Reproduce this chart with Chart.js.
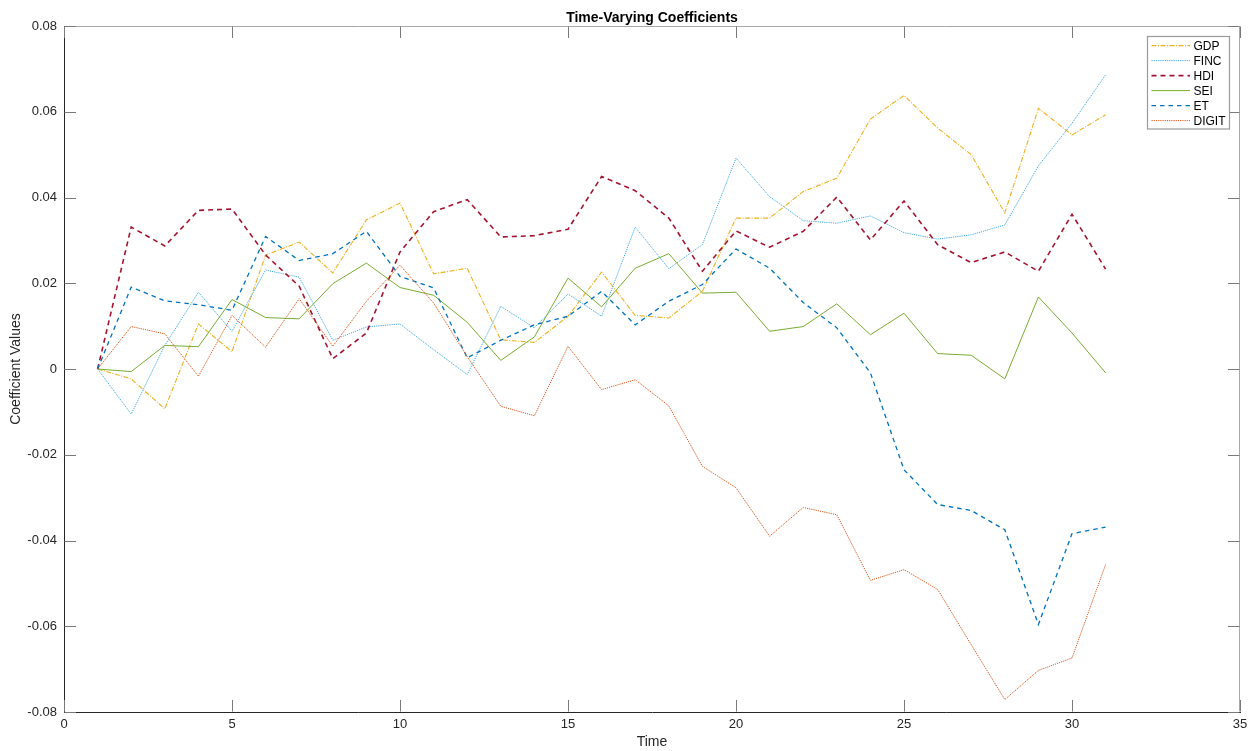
<!DOCTYPE html>
<html>
<head>
<meta charset="utf-8">
<title>Time-Varying Coefficients</title>
<script src="https://cdn.jsdelivr.net/npm/chart.js@4.4.1/dist/chart.umd.min.js"></script>
<style>
  html, body { margin: 0; padding: 0; background: #ffffff; }
  #wrap { width: 1258px; height: 751px; }
</style>
</head>
<body>
<div id="wrap"><canvas id="chart" width="1258" height="751"></canvas></div>
<script>
// Time index of the estimation window
const time = [1, 2, 3, 4, 5, 6, 7, 8, 9, 10, 11, 12, 13, 14, 15, 16, 17, 18, 19, 20,
              21, 22, 23, 24, 25, 26, 27, 28, 29, 30, 31];

// Coefficient paths for each regressor
const GDP   = [0, -0.0023, -0.0093, 0.0105, 0.0040, 0.0266, 0.0296, 0.0224, 0.0348, 0.0387,
               0.0222, 0.0235, 0.0068, 0.0062, 0.0123, 0.0226, 0.0125, 0.0119, 0.0181, 0.0352,
               0.0352, 0.0414, 0.0445, 0.0583, 0.0638, 0.0562, 0.0500, 0.0364, 0.0608, 0.0546, 0.0593];
const FINC  = [0, -0.0105, 0.0055, 0.0179, 0.0088, 0.0231, 0.0214, 0.0067, 0.0098, 0.0105,
               0.0045, -0.0013, 0.0146, 0.0096, 0.0175, 0.0123, 0.0331, 0.0234, 0.0290, 0.0492,
               0.0402, 0.0346, 0.0340, 0.0357, 0.0318, 0.0303, 0.0313, 0.0336, 0.0474, 0.0573, 0.0686];
const HDI   = [0, 0.0331, 0.0287, 0.0370, 0.0373, 0.0266, 0.0193, 0.0024, 0.0084, 0.0273,
               0.0367, 0.0395, 0.0308, 0.0311, 0.0326, 0.0449, 0.0416, 0.0352, 0.0228, 0.0322,
               0.0284, 0.0321, 0.0401, 0.0301, 0.0392, 0.0290, 0.0248, 0.0273, 0.0228, 0.0361, 0.0233];
const SEI   = [0, -0.0006, 0.0055, 0.0052, 0.0162, 0.0120, 0.0117, 0.0199, 0.0247, 0.0190,
               0.0172, 0.0109, 0.0020, 0.0075, 0.0212, 0.0145, 0.0235, 0.0269, 0.0177, 0.0179,
               0.0088, 0.0099, 0.0152, 0.0080, 0.0130, 0.0036, 0.0032, -0.0023, 0.0168, 0.0084, -0.0009];
const ET    = [0, 0.0191, 0.0159, 0.0150, 0.0137, 0.0309, 0.0253, 0.0269, 0.0321, 0.0216,
               0.0189, 0.0026, 0.0067, 0.0103, 0.0123, 0.0181, 0.0103, 0.0158, 0.0197, 0.0280,
               0.0235, 0.0155, 0.0096, -0.0009, -0.0235, -0.0316, -0.0330, -0.0375, -0.0596, -0.0384, -0.0369];
const DIGIT = [0, 0.0099, 0.0082, -0.0017, 0.0125, 0.0051, 0.0164, 0.0053, 0.0158, 0.0242,
               0.0154, 0.0029, -0.0087, -0.0109, 0.0053, -0.0048, -0.0025, -0.0086, -0.0227, -0.0277,
               -0.0390, -0.0323, -0.0340, -0.0493, -0.0468, -0.0514, -0.0643, -0.0771, -0.0703, -0.0674, -0.0456];

// Axis ticks and their labels
const xTicks = [0, 5, 10, 15, 20, 25, 30, 35];
const xTickLabels = ['0', '5', '10', '15', '20', '25', '30', '35'];
const yTicks = [-0.08, -0.06, -0.04, -0.02, 0, 0.02, 0.04, 0.06, 0.08];
const yTickLabels = ['-0.08', '-0.06', '-0.04', '-0.02', '0', '0.02', '0.04', '0.06', '0.08'];

const seriesNames = ['GDP', 'FINC', 'HDI', 'SEI', 'ET', 'DIGIT'];
const seriesValues = [GDP, FINC, HDI, SEI, ET, DIGIT];

const FONT = '"Liberation Sans", Arial, Helvetica, sans-serif';

const styles = {
  GDP:   { color: '#EDB120', width: 1.1, dash: [5, 1.5, 1, 1.5] },
  FINC:  { color: '#3FA9E6', width: 1,   dash: [1.2, 1] },
  HDI:   { color: '#A2142F', width: 1.6, dash: [5, 4] },
  SEI:   { color: '#77AC30', width: 1,   dash: [] },
  ET:    { color: '#0072BD', width: 1.3, dash: [4.5, 4] },
  DIGIT: { color: '#D95319', width: 1,   dash: [1.2, 1] }
};

const datasets = seriesNames.map((name, i) => ({
  label: name,
  data: time.map((t, k) => ({ x: t, y: seriesValues[i][k] })),
  borderColor: styles[name].color,
  backgroundColor: styles[name].color,
  borderWidth: styles[name].width,
  borderDash: styles[name].dash,
  pointRadius: 0,
  tension: 0,
  fill: false,
  order: seriesNames.length - i
}));

// Plot title above the axes box
const titlePlugin = {
  id: 'plotTitle',
  afterDraw(chart) {
    const { ctx, chartArea: a } = chart;
    ctx.save();
    ctx.font = 'bold 14px ' + FONT;
    ctx.fillStyle = '#000000';
    ctx.textAlign = 'center';
    ctx.textBaseline = 'alphabetic';
    ctx.fillText('Time-Varying Coefficients', (a.left + a.right) / 2, 21.7);
    ctx.restore();
  }
};

// Box outline (top/right) and inward tick marks on all four sides
const TICK_LEN = 11.5;
const framePlugin = {
  id: 'frame',
  afterDatasetsDraw(chart) {
    const { ctx, chartArea: a, scales: { x, y } } = chart;
    const L = Math.round(a.left) + 0.5, R = Math.round(a.right) - 0.5;
    const T = Math.round(a.top) + 0.5, B = Math.round(a.bottom) - 0.5;
    ctx.save();
    ctx.lineWidth = 1;
    ctx.strokeStyle = '#a8a8a8';
    ctx.beginPath();
    ctx.moveTo(L, T); ctx.lineTo(R, T);
    ctx.moveTo(R, T); ctx.lineTo(R, B);
    ctx.stroke();
    ctx.strokeStyle = '#7a7a7a';
    ctx.beginPath();
    x.ticks.forEach(t => {
      const px = Math.round(x.getPixelForValue(t.value)) + 0.5;
      ctx.moveTo(px, B); ctx.lineTo(px, B - TICK_LEN);
      ctx.moveTo(px, T); ctx.lineTo(px, T + TICK_LEN);
    });
    y.ticks.forEach(t => {
      const py = Math.round(y.getPixelForValue(t.value)) + 0.5;
      ctx.moveTo(L, py); ctx.lineTo(L + TICK_LEN, py);
      ctx.moveTo(R, py); ctx.lineTo(R - TICK_LEN, py);
    });
    ctx.stroke();
    ctx.restore();
  }
};

// Boxed legend in the upper-right corner of the axes
const legendPlugin = {
  id: 'boxLegend',
  afterDraw(chart) {
    const { ctx } = chart;
    const bx = 1147.5, by = 36.5, bw = 82, bh = 92.5;
    const rowH = 15, firstRow = 45.6;
    ctx.save();
    ctx.fillStyle = '#ffffff';
    ctx.fillRect(bx, by, bw, bh);
    ctx.lineWidth = 1.2;
    ctx.strokeStyle = '#9a9a9a';
    ctx.strokeRect(bx, by, bw, bh);
    chart.data.datasets.forEach((ds, i) => {
      const cy = firstRow + i * rowH;
      ctx.beginPath();
      ctx.setLineDash(ds.borderDash || []);
      ctx.lineWidth = ds.borderWidth;
      ctx.strokeStyle = ds.borderColor;
      ctx.moveTo(1151.5, cy); ctx.lineTo(1190, cy);
      ctx.stroke();
      ctx.setLineDash([]);
      ctx.font = '12px ' + FONT;
      ctx.fillStyle = '#000000';
      ctx.textAlign = 'left';
      ctx.textBaseline = 'alphabetic';
      ctx.fillText(ds.label, 1193.5, cy + 4.3);
    });
    ctx.restore();
  }
};

const ctx = document.getElementById('chart').getContext('2d');
new Chart(ctx, {
  type: 'line',
  data: { datasets },
  options: {
    responsive: false,
    animation: false,
    devicePixelRatio: 1,
    layout: { padding: { top: 26, right: 18, left: 0, bottom: 0 } },
    plugins: {
      legend: { display: false },
      tooltip: { enabled: false },
      title: { display: false }
    },
    scales: {
      x: {
        type: 'linear',
        min: 0,
        max: 35,
        afterBuildTicks(scale) { scale.ticks = xTicks.map(v => ({ value: v })); },
        afterFit(scale) { scale.height = 39; },
        grid: { display: false, drawTicks: false },
        border: { display: true, color: '#262626', width: 1 },
        ticks: {
          padding: 5,
          maxRotation: 0,
          autoSkip: false,
          color: '#262626',
          font: { family: FONT, size: 13 },
          callback: (v) => xTickLabels[xTicks.indexOf(v)]
        },
        title: {
          display: true,
          text: 'Time',
          color: '#262626',
          font: { family: FONT, size: 14 },
          padding: { top: 0, bottom: 0 }
        }
      },
      y: {
        type: 'linear',
        min: -0.08,
        max: 0.08,
        afterBuildTicks(scale) { scale.ticks = yTicks.map(v => ({ value: v })); },
        afterFit(scale) { scale.width = 64; },
        grid: { display: false, drawTicks: false },
        border: { display: true, color: '#262626', width: 1 },
        ticks: {
          padding: 7,
          autoSkip: false,
          color: '#262626',
          font: { family: FONT, size: 13 },
          callback: (v) => {
            const k = yTicks.findIndex(t => Math.abs(t - v) < 1e-9);
            return k >= 0 ? yTickLabels[k] : '';
          }
        },
        title: {
          display: true,
          text: 'Coefficient Values',
          color: '#262626',
          font: { family: FONT, size: 14 },
          padding: { top: 7.5, bottom: 0 }
        }
      }
    }
  },
  plugins: [framePlugin, legendPlugin, titlePlugin]
});
</script>
</body>
</html>
